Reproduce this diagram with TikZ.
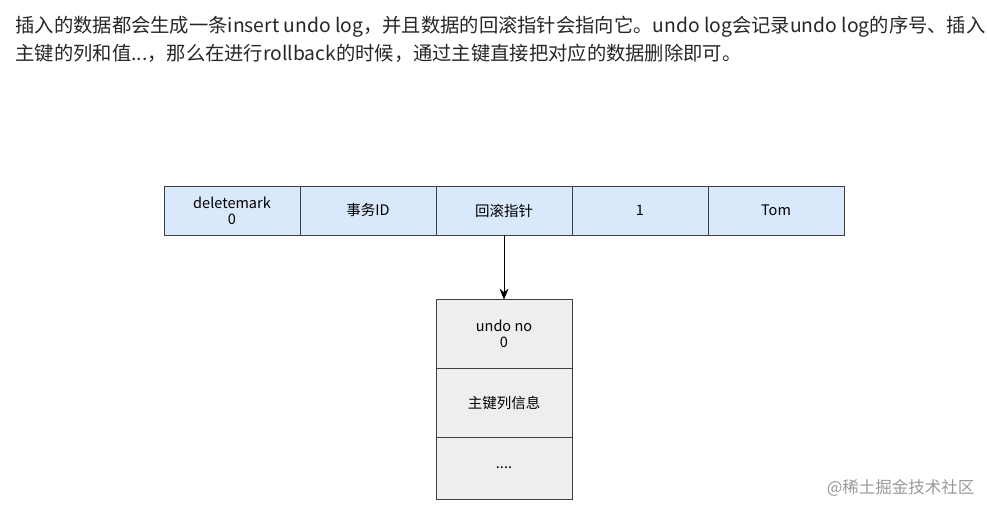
\documentclass[tikz,border=0pt]{standalone}
\usepackage{fontspec}
\usetikzlibrary{arrows.meta}
\setmainfont{Noto Sans CJK SC}
\definecolor{lblue}{HTML}{DAE8FC}
\definecolor{lgray}{HTML}{EEEEEE}
\begin{document}
\begin{tikzpicture}[x=1pt,y=-1pt,
  cell/.style={draw=black!75,fill=lblue,minimum width=136pt,minimum height=49pt,inner sep=0pt,font=\fontsize{14.5}{16}\selectfont,align=center,line width=0.8pt},
  lcell/.style={draw=black!75,fill=lgray,minimum width=136pt,inner sep=0pt,font=\fontsize{14.5}{16}\selectfont,align=center,line width=0.8pt}]
\useasboundingbox (0,0) rectangle (987,505);
\node[anchor=west,font=\fontsize{19.3}{22}\selectfont,text=black!85] (t1) at (12,27) {插入的数据都会生成一条insert undo log，并且数据的回滚指针会指向它。undo log会记录undo log的序号、插入};
\node[anchor=west,font=\fontsize{19.3}{22}\selectfont,text=black!85] (t2) at (12,53) {主键的列和值...，那么在进行rollback的时候，通过主键直接把对应的数据删除即可。};
\node[cell] (c1) at (232,210.5) {deletemark\\0};
\node[cell] (c2) at (368,210.5) {事务ID};
\node[cell] (c3) at (504,210.5) {回滚指针};
\node[cell] (c4) at (640,210.5) {1};
\node[cell] (c5) at (776,210.5) {Tom};
\node[lcell,minimum height=69pt] (u1) at (504,333.5) {undo no\\0};
\node[lcell,minimum height=69pt] (u2) at (504,402.5) {主键列信息};
\node[lcell,minimum height=62pt] (u3) at (504,468) {....};
\draw[-{Stealth[length=11pt,width=9pt]},line width=1pt] (c3.south) -- ([yshift=-1pt]u1.north);
\node[anchor=east,font=\fontsize{16.5}{18}\selectfont,text=black!40] (wm) at (978,488) {@稀土掘金技术社区};
\end{tikzpicture}
\end{document}
